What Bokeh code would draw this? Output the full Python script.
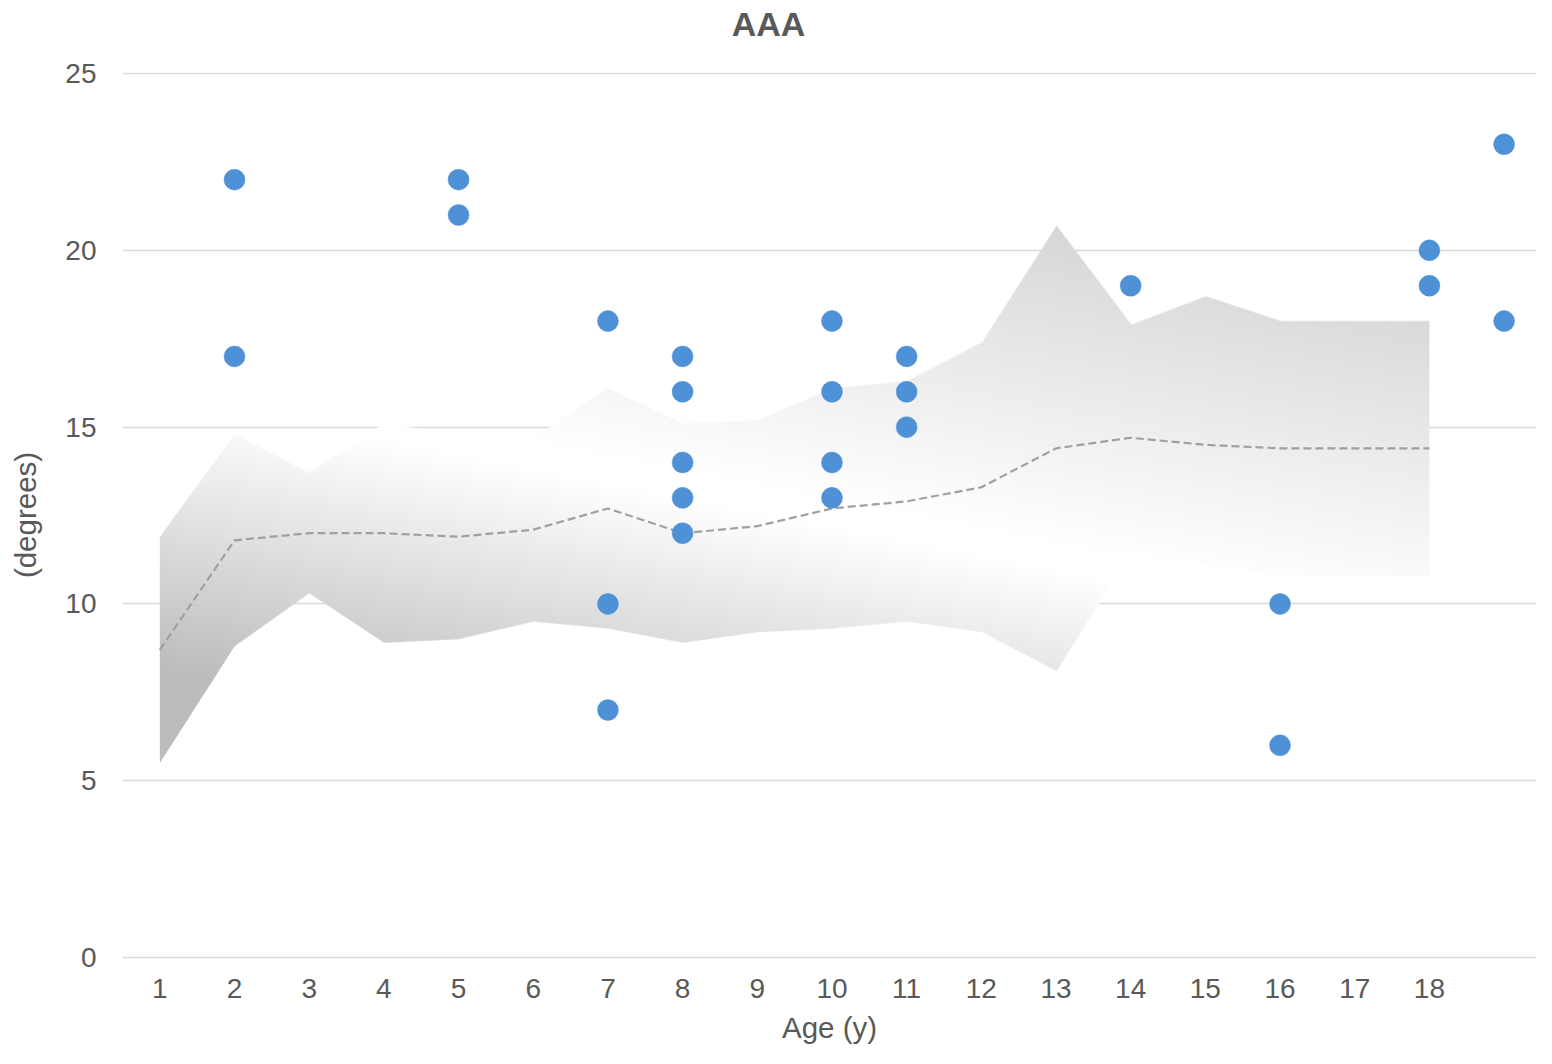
import numpy as np
from bokeh.plotting import figure
from bokeh.models import FixedTicker, Range1d, LinearAxis
from bokeh.embed import file_html
from bokeh.resources import INLINE

# ---- data ----
age_labels = [str(a) for a in range(1, 19)]
band_x = list(range(1, 19))
band_upper = [11.9, 14.8, 13.7, 15.1, 14.8, 14.7, 16.1, 15.1, 15.2, 16.1, 16.3, 17.4, 20.7, 17.9, 18.7, 18.0, 18.0, 18.0]
band_lower = [5.5, 8.8, 10.3, 8.9, 9.0, 9.5, 9.3, 8.9, 9.2, 9.3, 9.5, 9.2, 8.1, 11.5, 11.1, 10.8, 10.8, 10.8]
band_median = [8.7, 11.8, 12.0, 12.0, 11.9, 12.1, 12.7, 12.0, 12.2, 12.7, 12.9, 13.3, 14.4, 14.7, 14.5, 14.4, 14.4, 14.4]

point_x = [2, 2, 5, 5, 7, 7, 7, 8, 8, 8, 8, 8, 10, 10, 10, 10, 11, 11, 11, 14, 16, 16, 18, 18, 19, 19]
point_y = [22, 17, 22, 21, 18, 10, 7, 17, 16, 14, 13, 12, 18, 16, 14, 13, 17, 16, 15, 19, 10, 6, 20, 19, 23, 18]

y_ticks = [0, 5, 10, 15, 20, 25]
title_text = "AAA"

# ---- layout ----
W, H = 1536, 1048
BL, BR, BT, BB = 122, 0, 72, 91
XR = (0.5, 19.434)
YR = (0, 25.03)
TXT = "#595959"
FONT = "Liberation Sans"

p = figure(width=W, height=H, output_backend="svg", toolbar_location=None,
           x_range=Range1d(*XR), y_range=Range1d(*YR),
           min_border_left=BL, min_border_right=BR, min_border_top=BT, min_border_bottom=BB)
p.outline_line_color = None
p.background_fill_color = "white"
p.border_fill_color = "white"

fw = W - BL - BR
fh = H - BT - BB
ppx = fw / (XR[1] - XR[0])
ppy = fh / (YR[1] - YR[0])

# chart title, drawn as the single label of an axis above the frame
title_pos = 9.15
tax = LinearAxis(ticker=FixedTicker(ticks=[title_pos]),
                 major_label_overrides={title_pos: title_text},
                 axis_line_color=None, major_tick_line_color=None, minor_tick_line_color=None,
                 major_label_text_font=FONT, major_label_text_font_size="34px",
                 major_label_text_font_style="bold", major_label_text_color=TXT,
                 major_label_standoff=24)
p.add_layout(tax, "above")

# ---- gradient band as an image computed from the band arrays ----
ymin, ymax = min(band_lower), max(band_upper)
x0, x1 = band_x[0], band_x[-1]
nx = int(round((x1 - x0) * ppx))
ny = int(round((ymax - ymin) * ppy))
xs = x0 + (np.arange(nx) + 0.5) / nx * (x1 - x0)
ys = ymin + (np.arange(ny) + 0.5) / ny * (ymax - ymin)
U = np.interp(xs, band_x, band_upper)
L = np.interp(xs, band_x, band_lower)
X, Y = np.meshgrid(xs, ys)
a_up = np.clip((U[None, :] - Y) * ppy + 0.5, 0, 1)
a_lo = np.clip((Y - L[None, :]) * ppy + 0.5, 0, 1)
alpha = a_up * a_lo

# screen-space diagonal gradient (gray - white - gray)
sx = (X - XR[0]) * ppx
sy = (YR[1] - Y) * ppy
wx0, wy0 = (5 - XR[0]) * ppx, (YR[1] - 14.6) * ppy
wx1, wy1 = (15 - XR[0]) * ppx, (YR[1] - 10.5) * ppy
dx, dy = wx1 - wx0, wy1 - wy0
nrm = np.hypot(dx, dy)
d = ((sx - wx0) * (-dy) + (sy - wy0) * dx) / nrm
g = np.full_like(d, 255.0)
pos = d > 15
g[pos] = 255 - 0.25 * (d[pos] - 15)
g = np.maximum(g, 188)
neg = d < -15
g[neg] = 255 + 0.13 * (d[neg] + 15)
g = np.clip(g, 0, 255)

img = np.zeros((ny, nx, 4), dtype=np.uint8)
img[..., 0] = g.astype(np.uint8)
img[..., 1] = g.astype(np.uint8)
img[..., 2] = g.astype(np.uint8)
img[..., 3] = (alpha * 255).astype(np.uint8)
p.image_rgba(image=[img.view(dtype=np.uint32).reshape((ny, nx))],
             x=x0, y=ymin, dw=x1 - x0, dh=ymax - ymin)

p.line(band_x, band_median, line_color="#a0a0a0", line_width=2.2, line_dash="8 4")
p.scatter(point_x, point_y, size=21, fill_color="#4f91d6", line_color="#4f91d6", line_width=0.5)

# ---- axes / grid ----
p.xgrid.grid_line_color = None
p.ygrid.grid_line_color = "#d9d9d9"
p.ygrid.grid_line_width = 1.3
p.ygrid.ticker = FixedTicker(ticks=y_ticks)

p.yaxis.ticker = FixedTicker(ticks=y_ticks)
p.yaxis.axis_line_color = None
p.yaxis.major_tick_line_color = None
p.yaxis.minor_tick_line_color = None
p.yaxis.major_label_text_font = FONT
p.yaxis.major_label_text_font_size = "28px"
p.yaxis.major_label_text_color = TXT
p.yaxis.major_label_standoff = 20
p.yaxis.axis_label = "(degrees)"
p.yaxis.axis_label_text_font = FONT
p.yaxis.axis_label_text_font_size = "29.5px"
p.yaxis.axis_label_text_font_style = "normal"
p.yaxis.axis_label_text_color = TXT
p.yaxis.axis_label_standoff = 20

xax = p.below[0]
xax.ticker = FixedTicker(ticks=band_x)
xax.major_label_overrides = {x: lab for x, lab in zip(band_x, age_labels)}
xax.axis_line_color = "#d9d9d9"
xax.axis_line_width = 1.3
xax.major_tick_line_color = None
xax.minor_tick_line_color = None
xax.major_label_text_font = FONT
xax.major_label_text_font_size = "28px"
xax.major_label_text_color = TXT
xax.major_label_standoff = 15
xax.axis_label = "Age (y)"
xax.axis_label_text_font = FONT
xax.axis_label_text_font_size = "29.5px"
xax.axis_label_text_font_style = "normal"
xax.axis_label_text_color = TXT
xax.axis_label_standoff = 10

open("out.html", "w").write(file_html(p, INLINE))
